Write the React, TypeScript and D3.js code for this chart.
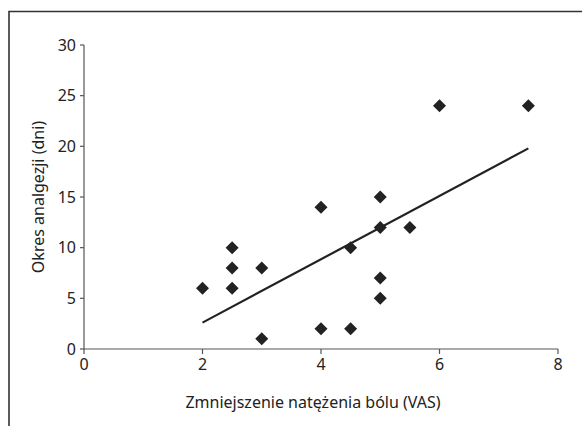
import React from "react";
import * as d3 from "d3";

const xValues = [2, 2.5, 2.5, 2.5, 3, 3, 4, 4, 4.5, 4.5, 5, 5, 5, 5, 5.5, 6, 7.5];
const yValues = [6, 10, 8, 6, 8, 1, 14, 2, 10, 2, 15, 12, 7, 5, 12, 24, 24];
const trendX = [2, 7.5];
const trendY = [2.6, 19.8];
const xTicks = [0, 2, 4, 6, 8];
const yTicks = [0, 5, 10, 15, 20, 25, 30];
const xTitle = "Zmniejszenie natężenia bólu (VAS)";
const yTitle = "Okres analgezji (dni)";

export default function App() {
  const W = 582, H = 426;
  const x = d3.scaleLinear().domain([0, 8]).range([84, 558]);
  const y = d3.scaleLinear().domain([0, 30]).range([349, 45]);
  const font = "'Noto Sans', sans-serif";
  const axisColor = "#555";
  const fs = 16;
  const r = 6.5;
  const line = d3.line<number>().x((d) => x(trendX[d])).y((d) => y(trendY[d]));
  return (
    <svg width={W} height={H} style={{ position: "absolute", left: 0, top: 0 }}>
      <rect width={W} height={H} fill="#fff" />
      <path d={`M9,${H} V11.5 H${W}`} fill="none" stroke="#333" strokeWidth={1.6} />
      <line x1={x(0)} x2={x(0)} y1={y(0)} y2={y(30)} stroke={axisColor} strokeWidth={1.2} />
      <line x1={x(0)} x2={x(8)} y1={y(0)} y2={y(0)} stroke={axisColor} strokeWidth={1.2} />
      {yTicks.map((t) => (
        <g key={"y" + t}>
          <line x1={x(0) - 4} x2={x(0)} y1={y(t)} y2={y(t)} stroke={axisColor} strokeWidth={1.2} />
          <text x={x(0) - 8} y={y(t)} dy="0.35em" textAnchor="end" fontFamily={font} fontSize={fs} fill="#222">
            {t}
          </text>
        </g>
      ))}
      {xTicks.map((t) => (
        <g key={"x" + t}>
          <line x1={x(t)} x2={x(t)} y1={y(0)} y2={y(0) + 5} stroke={axisColor} strokeWidth={1.2} />
          <text x={x(t)} y={y(0) + 21} textAnchor="middle" fontFamily={font} fontSize={fs} fill="#222">
            {t}
          </text>
        </g>
      ))}
      <text x={313} y={408} textAnchor="middle" fontFamily={font} fontSize={fs} fill="#222">
        {xTitle}
      </text>
      <text
        transform={`translate(44, ${(y(0) + y(30)) / 2}) rotate(-90)`}
        textAnchor="middle"
        fontFamily={font}
        fontSize={fs}
        fill="#222"
      >
        {yTitle}
      </text>
      <path d={line([0, 1]) || ""} fill="none" stroke="#222" strokeWidth={2.2} />
      {xValues.map((xv, i) => {
        const cx = x(xv), cy = y(yValues[i]);
        return (
          <path
            key={i}
            d={`M${cx},${cy - r} L${cx + r},${cy} L${cx},${cy + r} L${cx - r},${cy} Z`}
            fill="#222"
          />
        );
      })}
    </svg>
  );
}
